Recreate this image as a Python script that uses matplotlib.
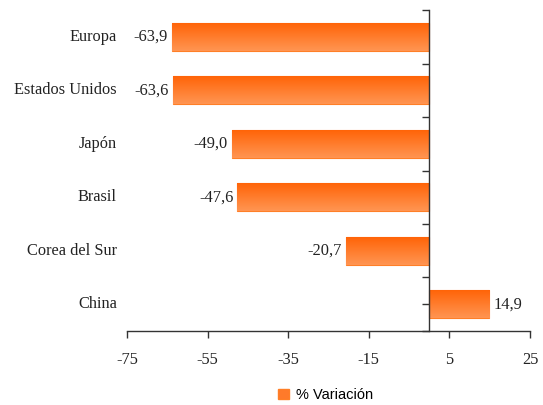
import numpy as np
import matplotlib.pyplot as plt
from matplotlib.colors import LinearSegmentedColormap
from matplotlib.patches import Patch

# datos
paises = ["Europa", "Estados Unidos", "Japón", "Brasil", "Corea del Sur", "China"]
variacion = [-63.9, -63.6, -49.0, -47.6, -20.7, 14.9]
xticks = [-75, -55, -35, -15, 5, 25]

serif = ["Liberation Serif", "DejaVu Serif"]
fs = 11.8
fig = plt.figure(figsize=(5.43, 4.05), dpi=100)
ax = fig.add_axes([0.234, 0.183, 0.742, 0.792])

pos = np.arange(len(paises))
bars = ax.barh(pos, variacion, height=0.52, color="#ff7a2a", edgecolor="#ff7f27", linewidth=0.8, zorder=2)

# degradado naranja en cada barra
cmap = LinearSegmentedColormap.from_list("nar", ["#ff6408", "#ff9552"])
grad = np.linspace(0, 1, 64).reshape(-1, 1)
for b in bars:
    x0, y0 = b.get_x(), b.get_y()
    w, h = b.get_width(), b.get_height()
    im = ax.imshow(grad, cmap=cmap, aspect="auto", extent=[x0, x0 + w, y0 + h, y0], zorder=2.5)
    im.set_clip_path(b)

ax.set_xlim(-75, 25)
ax.set_ylim(5.5, -0.5)
ax.set_xticks(xticks)
ax.set_xticklabels([str(t) for t in xticks], fontfamily=serif, fontsize=fs)
ax.tick_params(axis="x", direction="out", length=5, width=1, colors="#333333", pad=10)
for lab in ax.get_xticklabels():
    lab.set_color("#222222")

ax.spines["left"].set_position(("data", 0))
ax.spines["right"].set_visible(False)
ax.spines["top"].set_visible(False)
for s in ["left", "bottom"]:
    ax.spines[s].set_color("#333333")
    ax.spines[s].set_linewidth(1)
ax.set_yticks(np.arange(-0.5, 6, 1))
ax.set_yticks(pos, minor=True)
ax.tick_params(axis="y", which="both", direction="out", length=5, width=1, colors="#333333", labelleft=False)

tr = ax.get_yaxis_transform()
for i, (p, v) in enumerate(zip(paises, variacion)):
    ax.text(-0.025, i, p, transform=tr, ha="right", va="center", fontfamily=serif, fontsize=fs, color="#222222")
    etiqueta = f"{v:.1f}".replace(".", ",")
    if v < 0:
        ax.annotate(etiqueta, (v, i), xytext=(-3, 0), textcoords="offset points", ha="right", va="center",
                    fontfamily=serif, fontsize=fs, color="#222222")
    else:
        ax.annotate(etiqueta, (v, i), xytext=(3, 0), textcoords="offset points", ha="left", va="center",
                    fontfamily=serif, fontsize=fs, color="#222222")

leg = fig.legend(handles=[Patch(facecolor="#ff7a2a", edgecolor="#ff7f27", label="% Variación")],
                 loc="center", bbox_to_anchor=(0.6, 0.025), frameon=False,
                 prop={"family": ["Liberation Sans", "DejaVu Sans"], "size": 10.5},
                 handlelength=0.7, handleheight=0.7, handletextpad=0.5)

fig.savefig("out.png", dpi=100)
